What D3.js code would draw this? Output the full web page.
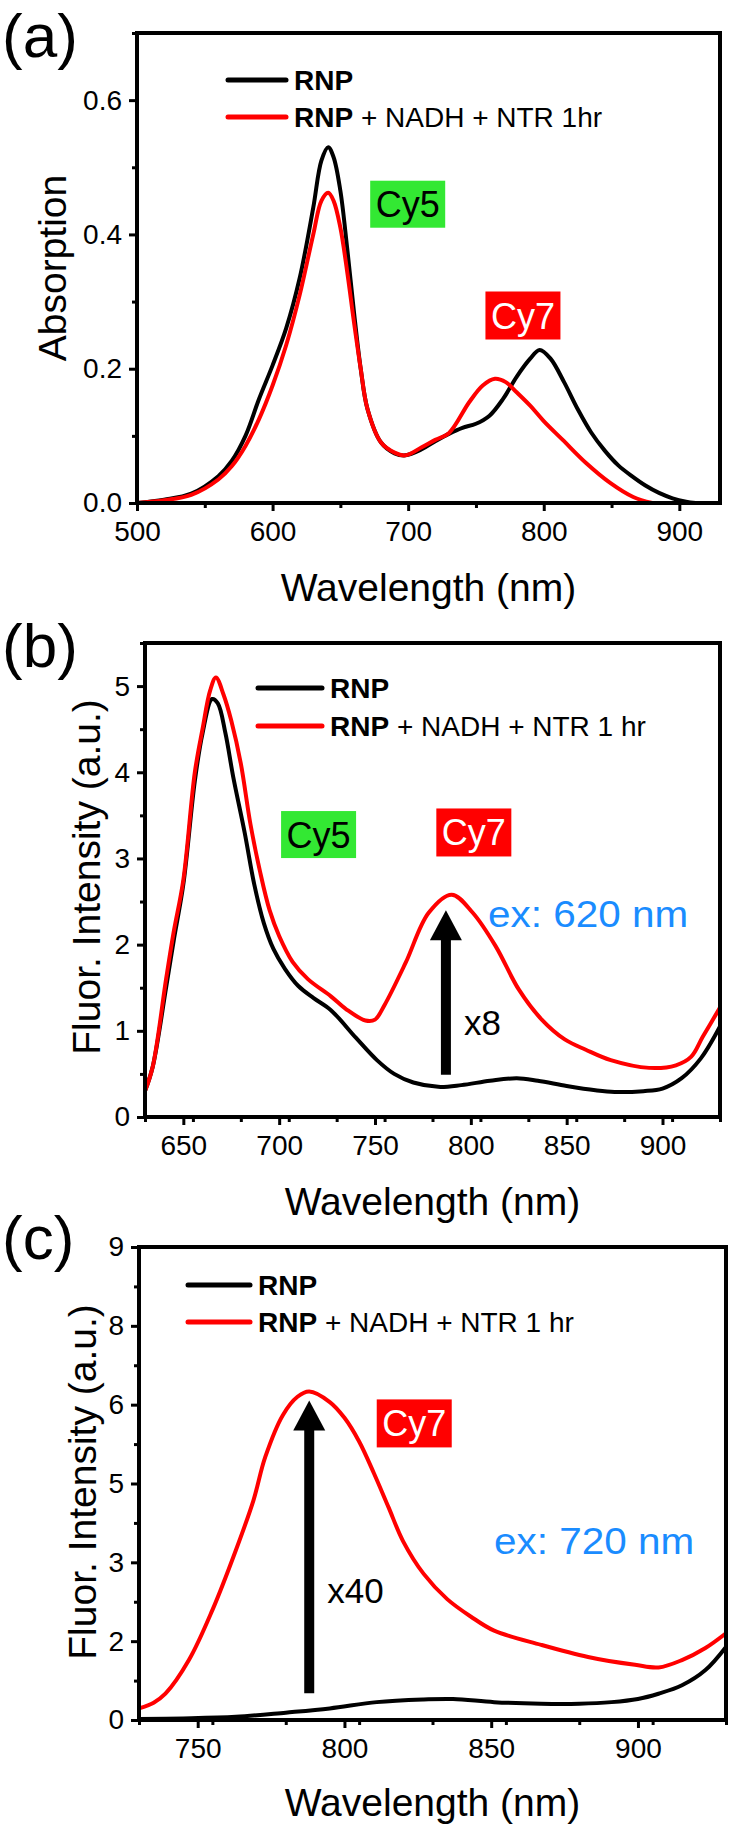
<!DOCTYPE html>
<html><head><meta charset="utf-8">
<script src="https://cdn.jsdelivr.net/npm/d3@7"></script>
<style>
html,body{margin:0;padding:0;background:#fff;}
text{font-family:"Liberation Sans",Arial,sans-serif;}
</style></head>
<body><svg id="chart" width="738" height="1833"></svg>
<script>
// ---------- Panel (a): absorption ----------
const absWl      = [500,520,540,560,570,580,590,600,610,620,630,636,641,645,650,655,660,665,670,680,690,698,710,720,730,740,750,760,770,780,790,797,805,815,825,835,845,855,865,875,885,895,905,912];
const absRNP     = [0.0,0.005,0.014,0.04,0.063,0.1,0.155,0.205,0.26,0.335,0.44,0.51,0.53,0.515,0.465,0.38,0.285,0.2,0.14,0.09,0.074,0.071,0.08,0.092,0.103,0.112,0.118,0.13,0.155,0.188,0.215,0.228,0.215,0.18,0.14,0.105,0.078,0.056,0.04,0.026,0.015,0.007,0.002,0.0];
const absWl2     = [500,520,540,560,570,580,590,600,610,620,630,636,641,645,650,655,660,665,670,680,690,698,710,720,730,745,755,764,772,780,790,800,814,831,849,866,880];
const absTreated = [0.0,0.004,0.012,0.035,0.055,0.085,0.125,0.175,0.235,0.31,0.4,0.45,0.462,0.45,0.41,0.345,0.27,0.2,0.14,0.09,0.075,0.071,0.083,0.094,0.104,0.15,0.175,0.185,0.18,0.165,0.145,0.122,0.094,0.06,0.03,0.009,0.0];
const absXTicks  = [500,600,700,800,900];
const absYTicks  = [0.0,0.2,0.4,0.6];

// ---------- Panel (b): fluorescence, ex 620 ----------
const flbWl      = [630,634,641,645,650,656,660,665,668,672,676,682,687,692,697,703,710,718,727,740,751,760,770,783,795,810,824,835,850,865,875,890,900,910,920,930];
const flbRNP     = [0.3,0.58,1.5,2.05,2.7,3.9,4.45,4.85,4.8,4.45,3.95,3.3,2.7,2.25,1.95,1.72,1.52,1.38,1.24,0.92,0.66,0.5,0.4,0.35,0.37,0.42,0.45,0.42,0.36,0.31,0.29,0.3,0.33,0.45,0.68,1.05];
const flbWl2     = [630,634,641,645,650,656,660,664,667,671,675,680,685,690,695,700,707,715,727,735,745,750,755,766,778,790,801,813,825,837,849,860,873,893,907,915,921,930];
const flbTreated = [0.3,0.58,1.6,2.15,2.75,4.0,4.5,4.95,5.1,4.9,4.6,4.1,3.4,2.85,2.4,2.1,1.8,1.6,1.4,1.25,1.12,1.13,1.3,1.79,2.37,2.58,2.37,1.98,1.48,1.13,0.9,0.78,0.66,0.57,0.6,0.7,0.93,1.27];
const flbXTicks  = [650,700,750,800,850,900];
const flbYTicks  = [0,1,2,3,4,5];

// ---------- Panel (c): fluorescence, ex 720 ----------
const flcWl      = [730,745,763,780,795,811,827,837,851,867,880,891,900,907,915,923,930];
const flcRNP     = [0.02,0.03,0.06,0.14,0.22,0.34,0.39,0.4,0.34,0.31,0.31,0.34,0.4,0.5,0.66,0.95,1.39];
const flcWl2     = [730,735,739,747,755,763,769,773,779,784,788,795,800,805,810,815,820,827,835,843,851,867,883,899,907,915,923,930];
const flcTreated = [0.22,0.33,0.5,1.14,2.09,3.23,4.18,5.0,5.8,6.15,6.25,6.05,5.75,5.3,4.7,4.05,3.4,2.78,2.3,1.97,1.7,1.43,1.2,1.05,1.0,1.14,1.37,1.65];
const flcXTicks  = [750,800,850,900];
const flcYTicks  = [0,1.5,3,4.5,6,7.5,9];
const flcYLabels = ["0","2","3","5","6","8","9"];

const legendLabels = ["RNP", "RNP + NADH + NTR 1hr", "RNP + NADH + NTR 1 hr"];

const svg = d3.select("#chart");
svg.append("rect").attr("width",738).attr("height",1833).attr("fill","#fff");

function panel(cfg){
  const g = svg.append("g");
  const x = d3.scaleLinear().domain(cfg.xDomain).range([cfg.left, cfg.right]);
  const y = d3.scaleLinear().domain(cfg.yDomain).range([cfg.bottom, cfg.top]);

  const xMinor = d3.range(cfg.xDomain[0], cfg.xDomain[1]+1e-9, cfg.xMinorStep).filter(v=>!cfg.xTicks.includes(v));
  const yMinor = d3.range(cfg.yDomain[0], cfg.yDomain[1]+1e-9, cfg.yMinorStep).filter(v=>!cfg.yTicks.some(t=>Math.abs(t-v)<1e-6));

  const xAxis = d3.axisBottom(x).tickValues(cfg.xTicks).tickSize(8).tickPadding(10).tickFormat(d3.format("d"));
  const xAxisMinor = d3.axisBottom(x).tickValues(xMinor).tickSize(5).tickFormat("");
  const yAxis = d3.axisLeft(y).tickValues(cfg.yTicks).tickSize(8).tickPadding(7).tickFormat(cfg.yFormat);
  const yAxisMinor = d3.axisLeft(y).tickValues(yMinor).tickSize(5).tickFormat("");

  [xAxis, xAxisMinor].forEach(ax=>{
    const a = g.append("g").attr("transform",`translate(0,${cfg.bottom})`).call(ax);
    a.select(".domain").remove();
    a.selectAll("line").attr("stroke","#000").attr("stroke-width",3);
    a.selectAll("text").attr("font-size",28).attr("fill","#000").attr("font-family","Liberation Sans, Arial, sans-serif");
  });
  [yAxis, yAxisMinor].forEach(ax=>{
    const a = g.append("g").attr("transform",`translate(${cfg.left},0)`).call(ax);
    a.select(".domain").remove();
    a.selectAll("line").attr("stroke","#000").attr("stroke-width",3);
    a.selectAll("text").attr("font-size",28).attr("fill","#000").attr("font-family","Liberation Sans, Arial, sans-serif");
  });

  const line = d3.line().x(d=>x(d[0])).y(d=>y(d[1])).curve(d3.curveCatmullRom.alpha(0.5));
  const clipId = "clip"+cfg.id;
  g.append("clipPath").attr("id",clipId).append("rect")
    .attr("x",cfg.left).attr("y",cfg.top).attr("width",cfg.right-cfg.left).attr("height",cfg.bottom-cfg.top);
  cfg.series.forEach(s=>{
    g.append("path").datum(d3.zip(s.wl, s.val))
      .attr("d",line).attr("fill","none").attr("stroke",s.color)
      .attr("stroke-width",4).attr("stroke-linejoin","round")
      .attr("clip-path",`url(#${clipId})`);
  });

  g.append("rect").attr("x",cfg.left).attr("y",cfg.top)
    .attr("width",cfg.right-cfg.left).attr("height",cfg.bottom-cfg.top)
    .attr("fill","none").attr("stroke","#000").attr("stroke-width",4);

  g.append("text").attr("x",(cfg.left+cfg.right)/2).attr("y",cfg.xTitleY)
    .attr("text-anchor","middle").attr("font-size",39).text("Wavelength (nm)");
  g.append("text").attr("transform",`translate(${cfg.yTitleX},${cfg.yTitleCY}) rotate(-90)`)
    .attr("text-anchor","middle").attr("font-size",39).text(cfg.yTitle);

  g.append("text").attr("x",2).attr("y",cfg.letterY).attr("font-size",62).text(cfg.letter);

  cfg.series.forEach((s,i)=>{
    const ly = cfg.legY + i*cfg.legGap;
    g.append("line").attr("x1",cfg.legX1).attr("x2",cfg.legX2).attr("y1",ly).attr("y2",ly)
      .attr("stroke",s.color).attr("stroke-width",5).attr("stroke-linecap","round");
    const t = g.append("text").attr("x",cfg.legX2+8).attr("y",ly+10).attr("font-size",28);
    const lab = s.label;
    t.append("tspan").attr("font-weight","bold").text(lab.slice(0,3));
    t.append("tspan").text(lab.slice(3));
  });

  cfg.tags.forEach(tg=>{
    g.append("rect").attr("x",x(tg.wl)).attr("y",y(tg.v)).attr("width",tg.w).attr("height",tg.h).attr("fill",tg.bg);
    g.append("text").attr("x",x(tg.wl)+tg.w/2).attr("y",y(tg.v)+tg.h/2+13)
      .attr("text-anchor","middle").attr("font-size",36).attr("fill",tg.fg).text(tg.text);
  });

  if(cfg.arrow){
    const a = cfg.arrow;
    const ax = x(a.wl), y0 = y(a.from), y1 = y(a.to);
    g.append("line").attr("x1",ax).attr("x2",ax).attr("y1",y0).attr("y2",y1+25)
      .attr("stroke","#000").attr("stroke-width",10);
    g.append("path").attr("d",`M${ax},${y1} L${ax-16},${y1+30} L${ax+16},${y1+30} Z`).attr("fill","#000");
    g.append("text").attr("x",ax+18).attr("y",y(a.labV)).attr("font-size",35).text(a.label);
  }
  if(cfg.note){
    g.append("text").attr("x",x(cfg.note.wl)).attr("y",y(cfg.note.v)).attr("font-size",36)
      .attr("textLength",200).attr("lengthAdjust","spacingAndGlyphs")
      .attr("fill","#1a8cff").text(cfg.note.text);
  }
}

panel({
  id:"a", letter:"(a)", letterY:57,
  left:137, right:720, top:33, bottom:503,
  xDomain:[500,930], yDomain:[0,0.7], xTicks:absXTicks, yTicks:absYTicks,
  xMinorStep:50, yMinorStep:0.1, yFormat:d3.format(".1f"),
  xTitleY:601, yTitleX:66, yTitleCY:268, yTitle:"Absorption",
  series:[{wl:absWl,val:absRNP,color:"#000",label:legendLabels[0]},
          {wl:absWl2,val:absTreated,color:"#ff0000",label:legendLabels[1]}],
  legX1:228, legX2:286, legY:80, legGap:37,
  tags:[{wl:672,v:0.48,w:75,h:47,bg:"#33e833",fg:"#000",text:"Cy5"},
        {wl:757,v:0.315,w:75,h:48,bg:"#ff0000",fg:"#fff",text:"Cy7"}]
});

panel({
  id:"b", letter:"(b)", letterY:667,
  left:145, right:720, top:643, bottom:1117,
  xDomain:[630,930], yDomain:[0,5.5], xTicks:flbXTicks, yTicks:flbYTicks,
  xMinorStep:25, yMinorStep:0.5, yFormat:d3.format("d"),
  xTitleY:1215, yTitleX:100, yTitleCY:877, yTitle:"Fluor. Intensity (a.u.)",
  series:[{wl:flbWl,val:flbRNP,color:"#000",label:legendLabels[0]},
          {wl:flbWl2,val:flbTreated,color:"#ff0000",label:legendLabels[2]}],
  legX1:258, legX2:322, legY:688, legGap:38,
  tags:[{wl:701,v:3.55,w:75,h:47,bg:"#33e833",fg:"#000",text:"Cy5"},
        {wl:782,v:3.58,w:75,h:48,bg:"#ff0000",fg:"#fff",text:"Cy7"}],
  arrow:{wl:787,from:0.49,to:2.4,label:"x8",labV:0.95},
  note:{wl:809,v:2.21,text:"ex: 620 nm"}
});

panel({
  id:"c", letter:"(c)", letterY:1259,
  left:139, right:726, top:1247, bottom:1720,
  xDomain:[730,930], yDomain:[0,9], xTicks:flcXTicks, yTicks:flcYTicks,
  xMinorStep:25, yMinorStep:0.75, yFormat:(d)=>flcYLabels[flcYTicks.indexOf(d)],
  xTitleY:1816, yTitleX:96, yTitleCY:1482, yTitle:"Fluor. Intensity (a.u.)",
  series:[{wl:flcWl,val:flcRNP,color:"#000",label:legendLabels[0]},
          {wl:flcWl2,val:flcTreated,color:"#ff0000",label:legendLabels[2]}],
  legX1:188, legX2:250, legY:1285, legGap:37,
  tags:[{wl:811,v:6.1,w:75,h:48,bg:"#ff0000",fg:"#fff",text:"Cy7"}],
  arrow:{wl:788,from:0.51,to:6.08,label:"x40",labV:2.23},
  note:{wl:851,v:3.16,text:"ex: 720 nm"}
});
</script>
</body></html>
